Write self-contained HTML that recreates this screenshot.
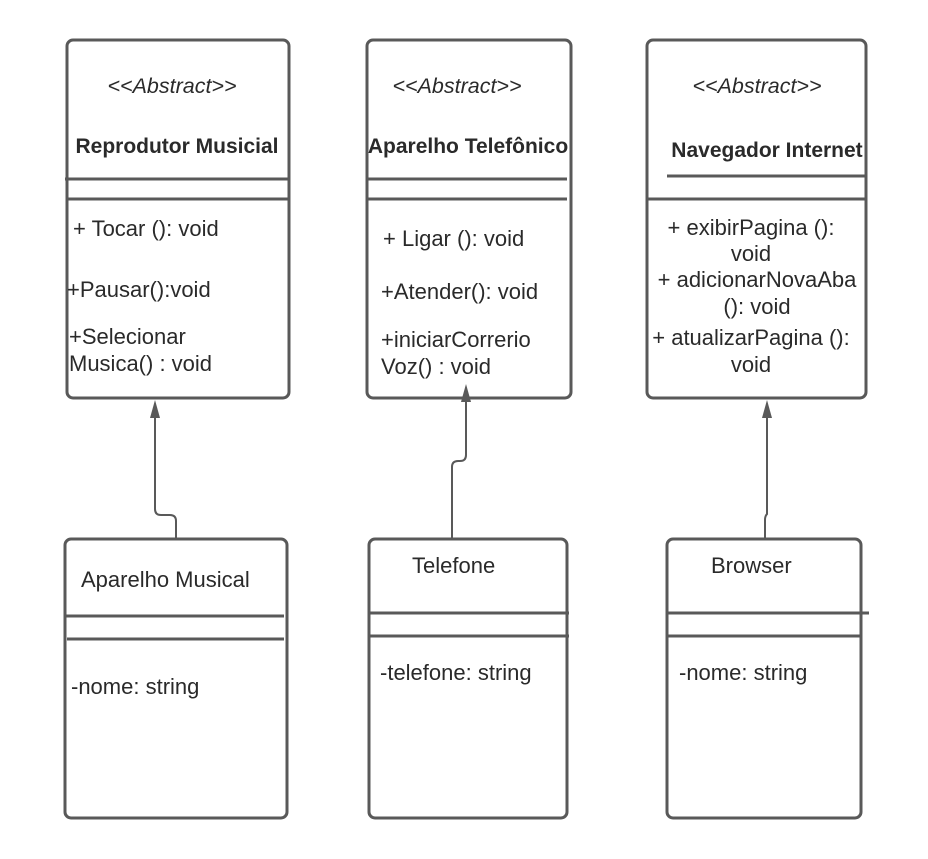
<!DOCTYPE html>
<html><head><meta charset="utf-8"><style>
html,body{margin:0;padding:0;background:#fff;}
svg{display:block;}
text{font-family:"Liberation Sans",Arial,sans-serif;fill:#2a2a2a;font-size:22px;}
.b{font-weight:bold;font-size:21px;}
.i{font-style:italic;font-size:21.5px;}
</style></head><body>
<svg width="928" height="859" viewBox="0 0 928 859" xmlns="http://www.w3.org/2000/svg">
<g fill="none" stroke="#595959" stroke-width="3">
<rect x="67" y="40" width="222" height="358" rx="6"/>
<rect x="367" y="40" width="204" height="358" rx="6"/>
<rect x="647" y="40" width="219" height="358" rx="6"/>
<rect x="65" y="539" width="222" height="279" rx="6"/>
<rect x="369" y="539" width="198" height="279" rx="6"/>
<rect x="667" y="539" width="194" height="279" rx="6"/>
<line x1="65" y1="179" x2="288" y2="179"/>
<line x1="67" y1="199" x2="288" y2="199"/>
<line x1="367" y1="179" x2="567" y2="179"/>
<line x1="367" y1="199" x2="567" y2="199"/>
<line x1="667" y1="176" x2="866" y2="176"/>
<line x1="647" y1="199" x2="866" y2="199"/>
<line x1="65" y1="616" x2="284" y2="616"/>
<line x1="67" y1="639" x2="284" y2="639"/>
<line x1="369" y1="613" x2="569" y2="613"/>
<line x1="369" y1="636" x2="569" y2="636"/>
<line x1="667" y1="613" x2="869" y2="613"/>
<line x1="667" y1="636" x2="861" y2="636"/>
</g>
<g fill="none" stroke="#595959" stroke-width="2">
<path d="M176 538 V521 Q176 515 170 515 H161 Q155 515 155 509 V412"/>
<path d="M452 538 V467 Q452 461 458 461 H460 Q466 461 466 455 V398"/>
<path d="M765 538 V520 Q765 516 767 514 V412"/>
</g>
<g fill="#595959">
<polygon points="155,400 150,418 160,418"/>
<polygon points="466,384 461,402 471,402"/>
<polygon points="767,400 762,418 772,418"/>
</g>
<text class="i" x="172" y="93" text-anchor="middle">&lt;&lt;Abstract&gt;&gt;</text>
<text class="b" x="177" y="153" text-anchor="middle">Reprodutor Musicial</text>
<text x="73" y="236">+ Tocar (): void</text>
<text x="67" y="297">+Pausar():void</text>
<text x="69" y="344">+Selecionar</text>
<text x="69" y="371">Musica() : void</text>

<text class="i" x="457" y="93" text-anchor="middle">&lt;&lt;Abstract&gt;&gt;</text>
<text class="b" x="468" y="153" text-anchor="middle">Aparelho Telefônico</text>
<text x="383" y="246">+ Ligar (): void</text>
<text x="381" y="299">+Atender(): void</text>
<text x="381" y="347">+iniciarCorrerio</text>
<text x="381" y="374">Voz() : void</text>

<text class="i" x="757" y="93" text-anchor="middle">&lt;&lt;Abstract&gt;&gt;</text>
<text class="b" x="767" y="157" text-anchor="middle">Navegador Internet</text>
<text x="751" y="235" text-anchor="middle">+ exibirPagina ():</text>
<text x="751" y="261" text-anchor="middle">void</text>
<text x="757" y="287" text-anchor="middle">+ adicionarNovaAba</text>
<text x="757" y="314" text-anchor="middle">(): void</text>
<text x="751" y="345" text-anchor="middle">+ atualizarPagina ():</text>
<text x="751" y="372" text-anchor="middle">void</text>

<text x="81" y="587">Aparelho Musical</text>
<text x="71" y="694">-nome: string</text>
<text x="412" y="573">Telefone</text>
<text x="380" y="680">-telefone: string</text>
<text x="711" y="573">Browser</text>
<text x="679" y="680">-nome: string</text>
</svg>
</body></html>
